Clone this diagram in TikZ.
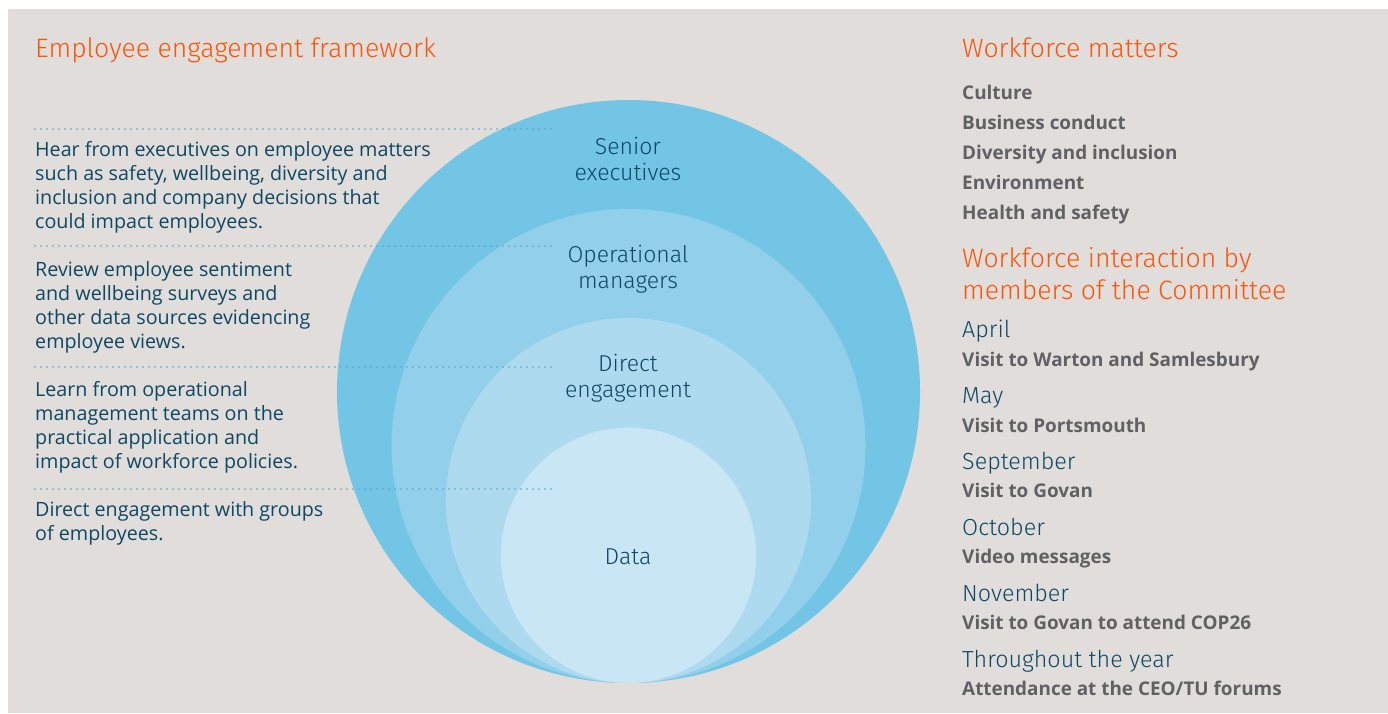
\documentclass[tikz,border=0pt]{standalone}
\usepackage{fontspec}
\setmainfont{Open Sans}
\newfontfamily\headfont{Fira Sans Light}
\definecolor{bg}{RGB}{225,221,218}
\definecolor{ringA}{RGB}{114,197,229}
\definecolor{ringB}{RGB}{146,207,235}
\definecolor{ringC}{RGB}{173,218,238}
\definecolor{ringD}{RGB}{200,230,243}
\definecolor{tealtext}{RGB}{14,72,100}
\definecolor{orng}{RGB}{250,85,10}
\definecolor{gry}{RGB}{96,97,101}
\definecolor{dotc}{RGB}{80,165,205}
\begin{document}
\begin{tikzpicture}[x=1pt,y=-1pt,
  head/.style={font=\headfont\fontsize{26.6}{32}\selectfont, text=orng, anchor=base west, inner sep=0pt, align=left},
  body/.style={font=\fontsize{19.7}{24}\selectfont, text=tealtext, anchor=base west, inner sep=0pt, align=left},
  item/.style={font=\bfseries\fontsize{18.9}{30}\selectfont, text=gry, anchor=base west, inner sep=0pt},
  month/.style={font=\headfont\fontsize{23.3}{28}\selectfont, text=tealtext, anchor=base west, inner sep=0pt},
  ring/.style={font=\headfont\fontsize{23}{26}\selectfont, text=tealtext, align=center, inner sep=0pt},
  sep/.style={dotc, line width=1.8pt, line cap=round, dash pattern=on 0pt off 6pt},
]
\useasboundingbox (0,0) rectangle (1388,713);
\fill[white] (0,0) rectangle (1388,713);
\fill[bg] (8,9) rectangle (1388,713);
% rings
\fill[ringA] (628.5,391.5) circle[radius=291.5pt];
\fill[ringB] (628.5,446) circle[radius=237pt];
\fill[ringC] (628.5,500.5) circle[radius=182.5pt];
\fill[ringD] (628.5,555.3) circle[radius=127.7pt];
% separators
\foreach \n/\yy in {1/129,2/246,3/367,4/489}{
  \coordinate (sepL\n) at (35,\yy);
  \coordinate (sepR\n) at (551,\yy);
  \draw[sep] (sepL\n) -- (sepR\n);
}
% ring labels
\node[ring] (senior) at (628,159) {Senior\\executives};
\node[ring] (opman) at (628,269) {Operational\\managers};
\node[ring] (direct) at (628,378) {Direct\\engagement};
\node[ring] (data) at (628,557) {Data};
% left (base anchor = last line baseline)
\node[head] (title) at (35,57) {Employee engagement framework};
\node[body] (b1) at (35,228) {Hear from executives on employee matters\\such as safety, wellbeing, diversity and\\inclusion and company decisions that\\could impact employees.};
\node[body] (b2) at (35,348) {Review employee sentiment\\and wellbeing surveys and\\other data sources evidencing\\employee views.};
\node[body] (b3) at (35,468) {Learn from operational\\management teams on the\\practical application and\\impact of workforce policies.};
\node[body] (b4) at (35,540) {Direct engagement with groups\\of employees.};
% right
\node[head] (wm) at (962,57) {Workforce matters};
\node[item] (i1) at (962,99) {Culture};
\node[item] (i2) at (962,129) {Business conduct};
\node[item] (i3) at (962,159) {Diversity and inclusion};
\node[item] (i4) at (962,189) {Environment};
\node[item] (i5) at (962,219) {Health and safety};
\node[head] (wi) at (962,299) {Workforce interaction by\\members of the Committee};
\node[month] (m1) at (962,337) {April};
\node[item] (v1) at (962,366) {Visit to Warton and Samlesbury};
\node[month] (m2) at (962,403) {May};
\node[item] (v2) at (962,432) {Visit to Portsmouth};
\node[month] (m3) at (962,469) {September};
\node[item] (v3) at (962,497) {Visit to Govan};
\node[month] (m4) at (962,535) {October};
\node[item] (v4) at (962,563) {Video messages};
\node[month] (m5) at (962,601) {November};
\node[item] (v5) at (962,629) {Visit to Govan to attend COP26};
\node[month] (m6) at (962,667) {Throughout the year};
\node[item] (v6) at (962,695) {Attendance at the CEO/TU forums};
\end{tikzpicture}
\end{document}
